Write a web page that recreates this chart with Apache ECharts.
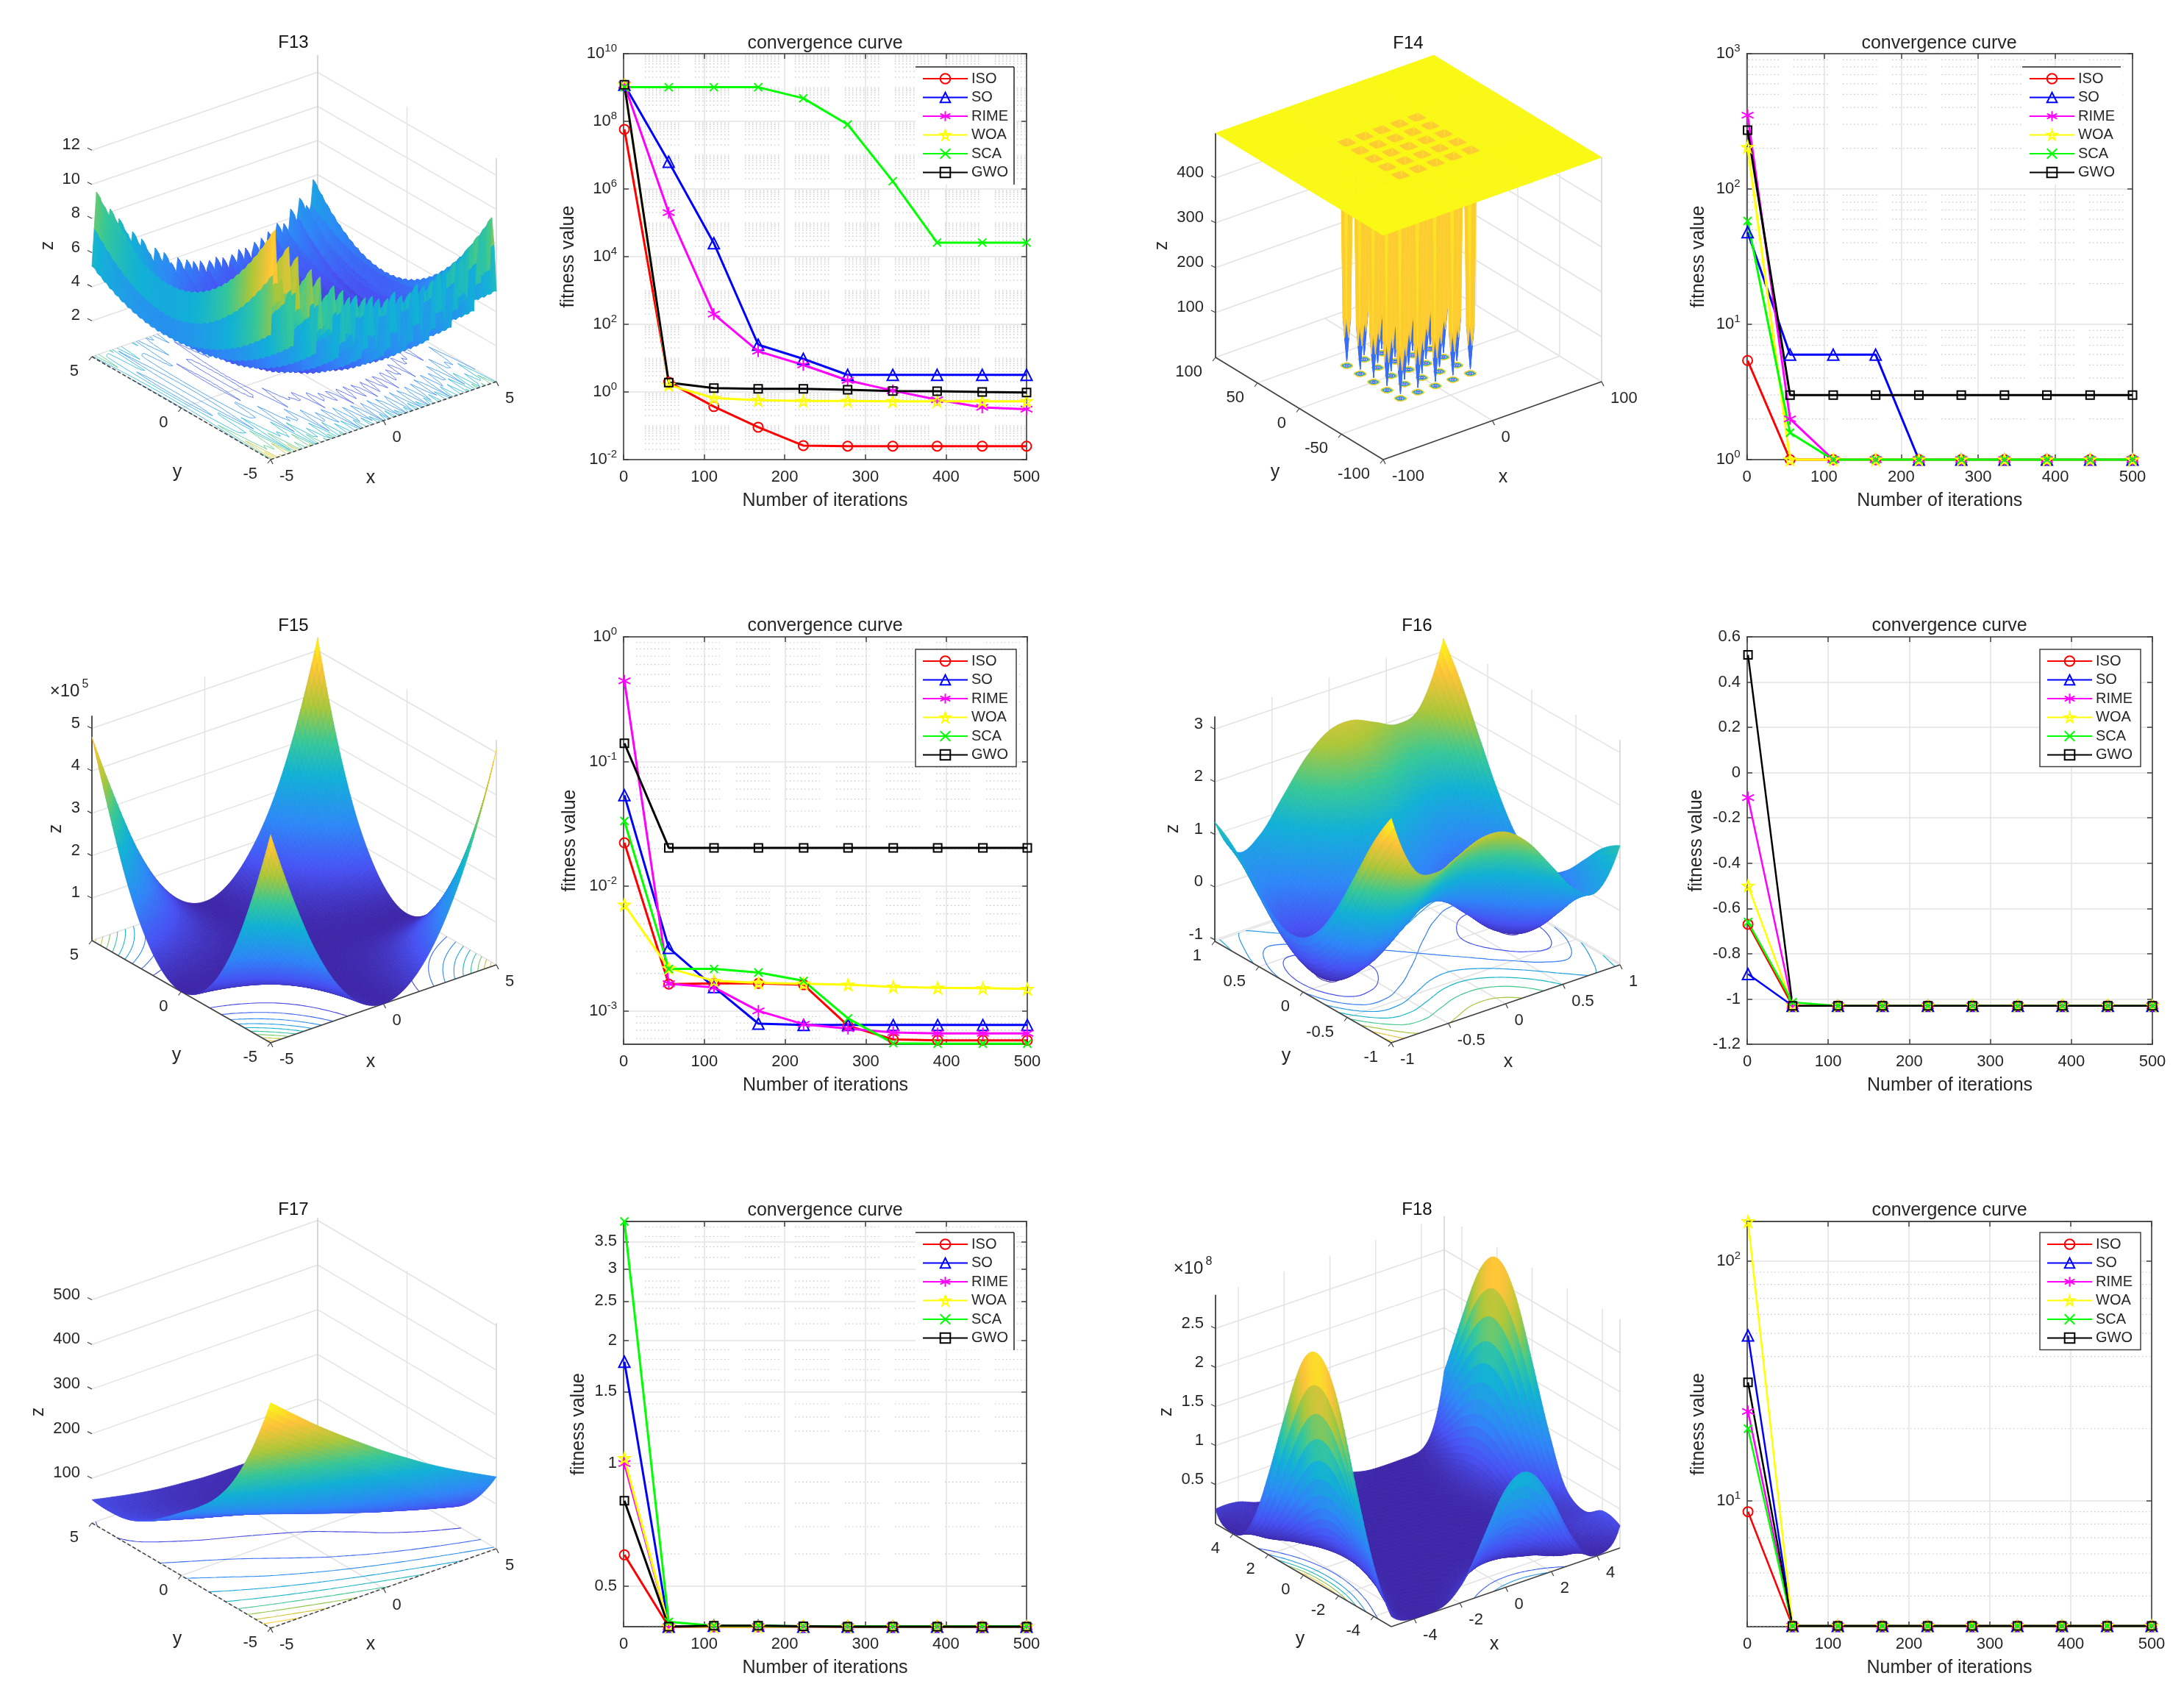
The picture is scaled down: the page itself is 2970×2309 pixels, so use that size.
<!DOCTYPE html>
<html><head><meta charset="utf-8">
<style>html,body{margin:0;padding:0;background:#fff}#c{width:2970px;height:2309px}</style>
<script src="https://cdn.jsdelivr.net/npm/echarts@6/dist/echarts.min.js"></script>
</head><body><div id="c"></div>
<script>
// ---------- DATA: convergence curves ----------
const iterations = [1,56,112,167,223,278,334,389,445,500];
const algorithms = ['ISO','SO','RIME','WOA','SCA','GWO'];

const c13_ISO  = [5.8e7,1.95,0.37,0.091,0.026,0.025,0.025,0.025,0.025,0.025];
const c13_SO   = [1.2e9,6.4e6,2.5e4,25,9.5,3.2,3.2,3.2,3.2,3.2];
const c13_RIME = [1.2e9,2e5,200,16,6.3,2.2,1.1,0.59,0.35,0.31];
const c13_WOA  = [1.2e9,1.6,0.66,0.57,0.54,0.54,0.53,0.53,0.53,0.53];
const c13_SCA  = [1.02e9,1.02e9,1.02e9,1.02e9,4.8e8,8.1e7,1.7e6,2.6e4,2.6e4,2.6e4];
const c13_GWO  = [1.2e9,1.9,1.3,1.24,1.24,1.16,1.07,1.05,1.0,0.96];

const c14_ISO  = [5.4,1,1,1,1,1,1,1,1,1];
const c14_SO   = [48,5.96,5.96,5.96,1,1,1,1,1,1];
const c14_RIME = [351,2.0,1,1,1,1,1,1,1,1];
const c14_WOA  = [204,1,1,1,1,1,1,1,1,1];
const c14_SCA  = [58,1.58,1,1,1,1,1,1,1,1];
const c14_GWO  = [272,3,3,3,3,3,3,3,3,3];

const c15_ISO  = [0.0223,1.64e-3,1.66e-3,1.66e-3,1.62e-3,7.6e-4,5.9e-4,5.8e-4,5.8e-4,5.8e-4];
const c15_SO   = [0.0537,3.2e-3,1.55e-3,7.9e-4,7.7e-4,7.7e-4,7.7e-4,7.7e-4,7.7e-4,7.7e-4];
const c15_RIME = [0.444,1.65e-3,1.54e-3,1.0e-3,7.8e-4,7.2e-4,6.7e-4,6.6e-4,6.6e-4,6.6e-4];
const c15_WOA  = [7.1e-3,2.2e-3,1.74e-3,1.68e-3,1.65e-3,1.62e-3,1.56e-3,1.53e-3,1.52e-3,1.5e-3];
const c15_SCA  = [0.0333,2.17e-3,2.17e-3,2.03e-3,1.74e-3,8.7e-4,5.5e-4,5.45e-4,5.45e-4,5.45e-4];
const c15_GWO  = [0.14,0.0203,0.0203,0.0203,0.0203,0.0203,0.0203,0.0203,0.0203,0.0203];

const c16_ISO  = [-0.67,-1.03,-1.03,-1.03,-1.03,-1.03,-1.03,-1.03,-1.03,-1.03];
const c16_SO   = [-0.89,-1.03,-1.03,-1.03,-1.03,-1.03,-1.03,-1.03,-1.03,-1.03];
const c16_RIME = [-0.11,-1.03,-1.03,-1.03,-1.03,-1.03,-1.03,-1.03,-1.03,-1.03];
const c16_WOA  = [-0.5,-1.03,-1.03,-1.03,-1.03,-1.03,-1.03,-1.03,-1.03,-1.03];
const c16_SCA  = [-0.66,-1.015,-1.03,-1.03,-1.03,-1.03,-1.03,-1.03,-1.03,-1.03];
const c16_GWO  = [0.52,-1.03,-1.03,-1.03,-1.03,-1.03,-1.03,-1.03,-1.03,-1.03];

const c17_ISO  = [0.597,0.398,0.398,0.398,0.398,0.398,0.398,0.398,0.398,0.398];
const c17_SO   = [1.776,0.398,0.4,0.4,0.398,0.398,0.398,0.398,0.398,0.398];
const c17_RIME = [1.0,0.398,0.398,0.398,0.398,0.398,0.398,0.398,0.398,0.398];
const c17_WOA  = [1.03,0.398,0.398,0.398,0.398,0.398,0.398,0.398,0.398,0.398];
const c17_SCA  = [3.92,0.409,0.4,0.4,0.399,0.399,0.399,0.399,0.399,0.399];
const c17_GWO  = [0.81,0.398,0.4,0.4,0.399,0.398,0.398,0.398,0.398,0.398];

const c18_ISO  = [9.0,3,3,3,3,3,3,3,3,3];
const c18_SO   = [49,3,3,3,3,3,3,3,3,3];
const c18_RIME = [23.6,3,3,3,3,3,3,3,3,3];
const c18_WOA  = [146.6,3,3,3,3,3,3,3,3,3];
const c18_SCA  = [20,3,3,3,3,3,3,3,3,3];
const c18_GWO  = [31.2,3,3,3,3,3,3,3,3,3];

const ticks13 = [1e-2,1,1e2,1e4,1e6,1e8,1e10];
const ticks14 = [1,10,100,1000];
const ticks15 = [1e-3,1e-2,1e-1,1];
const ticks16 = [-1.2,-1,-0.8,-0.6,-0.4,-0.2,0,0.2,0.4,0.6];
const ticks17 = [0.5,1,1.5,2,2.5,3,3.5];
const ticks18 = [10,100];
const minor17 = [0.4,0.6,0.7,0.8,0.9,1.2,1.3,1.4,1.6,1.7,1.8,1.9,2.2,2.4,2.6,2.7,2.8,3.2,3.4,3.6,3.8];

// ---------- DATA: surface heights (rows: x, columns: y) ----------
const f13Step = [36,25,16,9,4,1,0,1,4,9,16];
const f13RippleA = [0,.654,.905,.095,.345,1,.345,.095,.905,.654,0,.654,.905,.095,.345,1,.345,.095,.905,.654,0,.654,.905,.095,.345,1,.345,.095,.905,.654,0,.654,.905,.095,.345,1,.345,.095,.905,.654,0,.654,.905,.095,.345,1,.345,.095,.905,.654,0,.654,.905,.095,.345,1,.345,.095,.905,.654,0,.654,.905,.095,.345,1,.345,.095,.905,.654,0,.654,.905,.095,.345,1,.345,.095,.905,.654,0,.654,.905,.095,.345,1,.345,.095,.905,.654,0,.654,.905,.095,.345,1,.345,.095,.905,.654,0];
const f13RippleB = [0,.345,.905,.905,.345,0,.345,.905,.905,.345,0,.345,.905,.905,.345,0,.345,.905,.905,.345,0,.345,.905,.905,.345,0,.345,.905,.905,.345,0,.345,.905,.905,.345,0,.345,.905,.905,.345,0,.345,.905,.905,.345,0,.345,.905,.905,.345,0,.345,.905,.905,.345,0,.345,.905,.905,.345,0,.345,.905,.905,.345,0,.345,.905,.905,.345,0,.345,.905,.905,.345,0,.345,.905,.905,.345,0,.345,.905,.905,.345,0,.345,.905,.905,.345,0,.345,.905,.905,.345,0,.345,.905,.905,.345,0];

const f14Centres = [-32,-16,0,16,32];
const f14Offsets = [-5.2,-4,-2,0,2,4,5.2];
const f14Well = [
 [498,497,497,497,497,497,498],
 [497,471,447,446,447,471,497],
 [497,447,108,64,108,447,497],
 [497,446,64,10,64,446,497],
 [497,447,108,64,108,447,497],
 [497,471,447,446,447,471,497],
 [498,497,497,497,497,497,498]];

const f15Table = [
 [4.9,3.2,1.8,.8,.2,0,.2,.8,1.8,3.2,4.8],
 [3.2,2.05,1.15,.51,.13,0,.13,.51,1.15,2.05,3.2],
 [1.8,1.15,.65,.29,.07,0,.07,.29,.65,1.15,1.8],
 [.8,.51,.29,.13,.03,0,.03,.13,.29,.51,.8],
 [.2,.13,.07,.03,.01,0,.01,.03,.07,.13,.2],
 [0,0,0,0,0,0,0,0,0,0,0],
 [.2,.13,.07,.03,.01,0,.01,.03,.07,.13,.2],
 [.8,.51,.29,.13,.03,0,.03,.13,.29,.51,.8],
 [1.8,1.15,.65,.29,.07,0,.07,.29,.65,1.15,1.8],
 [3.2,2.05,1.15,.51,.13,0,.13,.51,1.15,2.05,3.3],
 [5.07,3.2,1.8,.8,.2,0,.2,.8,1.8,3.3,5.3]];

const f16Table = [
 [3.233,2.587,1.783,.988,.357,0,-.043,.188,.583,.987,1.233],
 [2.111,1.505,.741,-.014,-.605,-.922,-.925,-.654,-.219,.225,.511],
 [1.911,1.345,.621,-.094,-.645,-.922,-.885,-.574,-.099,.385,.711],
 [2.095,1.569,.885,.21,-.301,-.538,-.461,-.11,.405,.929,1.295],
 [2.279,1.793,1.149,.514,.043,-.154,-.037,.354,.909,1.473,1.879],
 [2.233,1.787,1.183,.588,.157,0,.157,.588,1.183,1.787,2.233],
 [1.879,1.473,.909,.354,-.037,-.154,.043,.514,1.149,1.793,2.279],
 [1.295,.929,.405,-.11,-.461,-.538,-.301,.21,.885,1.569,2.095],
 [.711,.385,-.099,-.574,-.885,-.922,-.645,-.094,.621,1.345,1.911],
 [.511,.225,-.219,-.654,-.925,-.922,-.605,-.014,.741,1.505,2.111],
 [1.233,.987,.583,.188,-.043,0,.357,.988,1.783,2.587,3.233]];

const f17Table = [
 [505,381,287,222,177,141,106,75,55,49,52],
 [462,343,255,194,153,120,88,60,41,36,41],
 [420,308,224,167,130,101,72,46,30,26,31],
 [381,274,195,143,110,84,58,34,20,17,23],
 [344,242,168,121,91,69,46,25,12,11,18],
 [308,212,143,100,75,56,36,17,6,7,14],
 [275,184,120,82,60,45,28,11,2.4,4,13],
 [243,158,99,65,48,36,22,8,.6,4,13],
 [214,134,80,51,37,29,18,6,.9,5.4,16],
 [187,112,64,38,29,24,16,6,3,9,20],
 [161,93,49,28,23,21,15,9,7,15,27]];

const f18Table = [
 [.132,.652,1.505,2.44,2.92,2.76,1.963,1.016,.266,.007,.187],
 [.005,.01,.106,.278,.416,.412,.264,.081,.002,.072,.179],
 [.011,.003,0,.009,.029,.034,.015,.001,.02,.058,.081],
 [.201,.015,.001,0,0,.001,0,.003,.012,.021,.088],
 [.718,.114,.01,0,0,0,0,.001,.003,.016,.148],
 [1.256,.24,.028,.001,0,0,0,0,.001,.015,.137],
 [1.373,.238,.02,0,.001,0,0,0,0,.003,.055],
 [.942,.098,.001,.01,.007,.002,.001,.001,0,0,.003],
 [.304,.003,.042,.041,.019,.021,.038,.038,.018,.003,.003],
 [.009,.123,.137,.075,.106,.255,.414,.457,.349,.169,.038],
 [.287,.344,.207,.33,.923,1.73,2.48,2.79,2.5,1.76,.943]];

const parulaStops = [[0,62,38,168],[.125,71,82,244],[.27,46,135,247],[.45,17,177,214],[.58,55,200,151],[.72,171,199,57],[.87,254,195,56],[1,249,251,20]];

// ---------- LAYOUT / STYLE ----------
const FONT = '"Liberation Sans", Arial, sans-serif';
const INK = '#262626', AXIS = '#404040', GRIDC = '#e3e3e3', MINOR = '#c6c6c6';
const COLORS = ['#ff0000','#0000ff','#ff00ff','#ffff00','#00ff00','#000000'];
const SYMBOLS = ['circle','triangle',
 'path://M12 0V24M1.6 6L22.4 18M1.6 18L22.4 6',
 'path://M12 0L14.9 8.6H24L16.6 14L19.4 23L12 17.4L4.6 23L7.4 14L0 8.6H9.1Z',
 'path://M0 0L24 24M0 24L24 0','rect'];
const SIZES = [13,15,16,15,11,11];

const linePanels = [
 {vals:[c13_ISO,c13_SO,c13_RIME,c13_WOA,c13_SCA,c13_GWO],lw:3,l:848,r:1396,t:73,b:625,log:true,min:1e-2,max:1e10,ticks:ticks13,minorDec:[-2,10],all:true,tx:1122,ty:59,nameGap:75,
  leg:{x:1245,y:91,box:'tr',w:134},dots:{start:877,period:68,len:47},sup:true},
 {vals:[c14_ISO,c14_SO,c14_RIME,c14_WOA,c14_SCA,c14_GWO],lw:3,l:2375.5,r:2900,t:73,b:625,log:true,min:1,max:1000,ticks:ticks14,minorDec:[0,3],tx:2637,ty:59,nameGap:65,
  leg:{x:2750,y:91,box:'t',w:134},dots:{start:2372,period:67,len:47},sup:true},
 {vals:[c15_ISO,c15_SO,c15_RIME,c15_WOA,c15_SCA,c15_GWO],lw:3,l:848,r:1397,t:866,b:1420,log:true,min:5.4e-4,max:1,ticks:ticks15,minorDec:[-4,0],tx:1122,ty:851,nameGap:73,
  leg:{x:1245,y:883,box:'full',w:135},dots:{start:865,period:68,len:46},sup:true},
 {vals:[c16_ISO,c16_SO,c16_RIME,c16_WOA,c16_SCA,c16_GWO],lw:2.5,l:2376,r:2927,t:866,b:1420,log:false,min:-1.2,max:0.6,ticks:ticks16,tx:2651,ty:851,nameGap:69,
  leg:{x:2774,y:883,box:'full',w:136}},
 {vals:[c17_ISO,c17_SO,c17_RIME,c17_WOA,c17_SCA,c17_GWO],lw:3,l:848,r:1396,t:1661,b:2212,log:true,min:0.398,max:3.92,ticks:ticks17,minorList:minor17,tx:1122,ty:1646,nameGap:61,
  leg:{x:1245,y:1676,box:'tr',w:134},dots:{start:877,period:68,len:47}},
 {vals:[c18_ISO,c18_SO,c18_RIME,c18_WOA,c18_SCA,c18_GWO],lw:2.5,l:2376,r:2926,t:1661,b:2212,log:true,min:2.98,max:146.6,ticks:ticks18,minorDec:[0,3],tx:2651,ty:1646,nameGap:66,
  leg:{x:2774,y:1676,box:'full',w:134},dots:{start:2376,period:550,len:550},sup:true}
];

function parula(t){
  t = Math.max(0,Math.min(1,t));
  for(let i=1;i<parulaStops.length;i++){
    const a=parulaStops[i-1], b=parulaStops[i];
    if(t<=b[0]){
      const k=(t-a[0])/(b[0]-a[0]);
      return 'rgb('+Math.round(a[1]+k*(b[1]-a[1]))+','+Math.round(a[2]+k*(b[2]-a[2]))+','+Math.round(a[3]+k*(b[3]-a[3]))+')';
    }
  }
  return 'rgb(249,251,20)';
}

// display smoothing of a coarse height table (the mesh between read values)
function smooth1D(p,n){
  const out=[], m=p.length;
  const at=i=> i<0 ? 3*p[0]-3*p[1]+p[2] : i>=m ? 3*p[m-1]-3*p[m-2]+p[m-3] : p[i];
  for(let i=0;i<m-1;i++){
    for(let k=0;k<n;k++){
      const t=k/n,a=at(i-1),b=at(i),c=at(i+1),d=at(i+2);
      out.push(0.5*((2*b)+(-a+c)*t+(2*a-5*b+4*c-d)*t*t+(-a+3*b-3*c+d)*t*t*t));
    }
  }
  out.push(p[m-1]);
  return out;
}
function smoothTable(T,n,root){
  const src = root ? T.map(r=>r.map(v=>Math.sqrt(Math.max(v,0)))) : T;
  const rows = src.map(r=>smooth1D(r,n));
  const w = rows[0].length, cols=[];
  for(let j=0;j<w;j++) cols.push(smooth1D(rows.map(r=>r[j]),n));
  const out=[];
  for(let i=0;i<cols[0].length;i++){
    out.push(cols.map(c=>{const v=c[i];return root? v*v : v;}));
  }
  return out;
}
function lin(a,b,n){const o=[];for(let i=0;i<n;i++)o.push(a+(b-a)*i/(n-1));return o;}

// surface builders
function buildF13(){
  const p = smooth1D(f13Step,10), z=[];
  for(let ix=0;ix<101;ix++){
    const row=[];
    for(let iy=0;iy<101;iy++){
      row.push(0.1*(f13RippleA[iy]+p[iy]*(1+f13RippleA[ix])+p[ix]*(1+f13RippleB[ix])));
    }
    z.push(row);
  }
  return {xs:lin(-5,5,101),ys:lin(-5,5,101),z};
}
function buildF14(){
  const lines=[-100]; f14Centres.forEach(c=>f14Offsets.forEach(o=>lines.push(c+o))); lines.push(100);
  const n=lines.length, z=[];
  for(let i=0;i<n;i++){
    const row=[];
    for(let j=0;j<n;j++){
      if(i===0||j===0||i===n-1||j===n-1) row.push(500);
      else row.push(f14Well[(i-1)%7][(j-1)%7]);
    }
    z.push(row);
  }
  return {xs:lines,ys:lines,z};
}
function buildTable(T,r0,r1,n,root){
  const z=smoothTable(T,n,root);
  return {xs:lin(r0,r1,z.length),ys:lin(r0,r1,z[0].length),z};
}

const surfacePanels = [
 {title:'F13',tx:399,ty:58,L:[125,485],F:[368,625],R:[675,519],zs:23.2,zf:-0.1,zt:13,
  xt:[-5,0,5],yt:[-5,0,5],zt_:[2,4,6,8,10,12],levels:[2,4,6,8,10,12],cw:0.8,
  xTitle:[504,650],yTitle:[241,642],zTitle:[65,334],zLine:false,xWall:false,surf:buildF13(),dash:[5,3]},
 {title:'F14',tx:1915,ty:59,L:[1653,486],F:[1881,625],R:[2178,519],zs:0.61,zf:0,zt:500,
  xt:[-100,0,100],yt:[-100,-50,0,50,100],zt_:[100,200,300,400],levels:[50,100,150,200,250,300,350,400,450],cw:1,
  xTitle:[2044,649],yTitle:[1734,642],zTitle:[1580,334],zLine:true,xWall:false,surf:buildF14(),colorWell:true},
 {title:'F15',tx:399,ty:851,L:[125,1279],F:[368,1418],R:[675,1312],zs:57.7,zf:0,zt:5.3,
  xt:[-5,0,5],yt:[-5,0,5],zt_:[1,2,3,4,5],levels:[.5,1,1.5,2,2.5,3,3.5,4,4.5,5],cw:1.1,
  xTitle:[504,1444],yTitle:[240,1435],zTitle:[76,1127],zLine:true,xWall:true,surf:buildTable(f15Table,-5,5,8),exp:['5',[92,940]]},
 {title:'F16',tx:1927,ty:851,L:[1652,1280],F:[1892,1418],R:[2203,1312],zs:71.6,zf:-1.03,zt:3.24,
  xt:[-1,-.5,0,.5,1],yt:[-1,-.5,0,.5,1],zt_:[-1,0,1,2,3],levels:[-1,-.5,0,.5,1,1.5,2,2.5,3],cw:1.2,
  xTitle:[2051,1444],yTitle:[1749,1436],zTitle:[1595,1127],zLine:true,xWall:true,surf:buildTable(f16Table,-1,1,8)},
 {title:'F17',tx:399,ty:1645,L:[125,2071],F:[368,2214],R:[675,2106],zs:0.607,zf:0,zt:505,
  xt:[-5,0,5],yt:[-5,0,5],zt_:[100,200,300,400,500],levels:[50,100,150,200,250,300,350,400,450,500],cw:1.1,
  xTitle:[504,2236],yTitle:[241,2229],zTitle:[52,1920],zLine:false,xWall:false,surf:buildTable(f17Table,-5,5,8),dash:[5,3]},
 {title:'F18',tx:1927,ty:1645,L:[1653,2072],F:[1892,2212],R:[2203,2105],zs:106.2,zf:0,zt:2.93,
  xt:[-4,-2,0,2,4],yt:[-4,-2,0,2,4],zt_:[.5,1,1.5,2,2.5],levels:[.5,1,1.5,2,2.5],cw:1.1,
  xTitle:[2032,2236],yTitle:[1768,2229],zTitle:[1586,1920],zLine:true,xWall:true,surf:buildTable(f18Table,-5,5,10,true),exp:['8',[1620,1725]]}
];

// ---------- OPTION ----------
const option = {backgroundColor:'#fff',animation:false,title:[],grid:[],xAxis:[],yAxis:[],series:[],legend:[],graphic:{elements:[]},progressive:0};

function axisCommon(){return {
  axisLine:{show:true,onZero:false,lineStyle:{color:AXIS,width:1.5}},
  axisTick:{show:true,inside:true,length:7,lineStyle:{color:AXIS,width:1.5}}
};}

linePanels.forEach((P,idx)=>{
  const g=idx, xA=idx*2, yA=idx*2;
  option.grid.push({left:P.l,top:P.t,width:P.r-P.l,height:P.b-P.t,show:true,borderColor:AXIS,borderWidth:1.5,backgroundColor:'transparent'});
  option.title.push({text:'convergence curve',left:P.tx,top:P.ty,textAlign:'center',textVerticalAlign:'middle',padding:0,
    textStyle:{fontSize:25,fontWeight:'normal',color:INK,fontFamily:FONT}});
  // x axes
  option.xAxis.push(Object.assign(axisCommon(),{type:'value',gridIndex:g,min:0,max:500,interval:100,position:'bottom',
    name:'Number of iterations',nameLocation:'middle',nameGap:44,nameTextStyle:{fontSize:25,color:INK,fontFamily:FONT},
    axisLabel:{fontSize:22,color:INK,fontFamily:FONT,margin:13},
    splitLine:{show:true,lineStyle:{color:GRIDC,width:1.5}}}));
  option.xAxis.push(Object.assign(axisCommon(),{type:'value',gridIndex:g,min:0,max:500,interval:100,position:'top',
    axisLabel:{show:false},splitLine:{show:false}}));
  // y axes
  const fmt = P.sup ? (v=>'{a|10}{b|'+Math.round(Math.log10(v))+'}') : (v=>String(v));
  const rich = {a:{fontSize:22,color:INK,fontFamily:FONT},b:{fontSize:15,color:INK,fontFamily:FONT,padding:[0,0,14,0]}};
  const yBase = P.log ? {type:'log',logBase:10} : {type:'value',interval:0.2};
  const yTick = P.log ? {customValues:P.ticks} : {};
  option.yAxis.push(Object.assign(axisCommon(),yBase,{gridIndex:g,min:P.min,max:P.max,position:'left',
    name:'fitness value',nameLocation:'middle',nameGap:P.nameGap,nameRotate:90,nameTextStyle:{fontSize:25,color:INK,fontFamily:FONT,verticalAlign:'middle'},
    axisTick:{show:true,inside:true,length:7,lineStyle:{color:AXIS,width:1.5},...yTick},
    axisLabel:{fontSize:22,color:INK,fontFamily:FONT,margin:9,formatter:fmt,rich,...yTick},
    splitLine:{show:true,lineStyle:{color:GRIDC,width:1.5}}}));
  option.yAxis.push(Object.assign(axisCommon(),yBase,{gridIndex:g,min:P.min,max:P.max,position:'right',
    axisTick:{show:true,inside:true,length:7,lineStyle:{color:AXIS,width:1.5},...yTick},
    axisLabel:{show:false},splitLine:{show:false}}));
  // minor log grid
  if(P.log){
    let minors = P.minorList ? P.minorList.slice() : [];
    if(P.minorDec){
      for(let e=P.minorDec[0];e<P.minorDec[1];e++){
        for(let m=2;m<=9;m++) minors.push(m*Math.pow(10,e));
        if(P.all && (e%2!==0)) minors.push(Math.pow(10,e));
      }
    }
    minors = minors.filter(v=>v>P.min && v<P.max);
    option.series.push({type:'custom',coordinateSystem:'cartesian2d',xAxisIndex:xA,yAxisIndex:yA,silent:true,clip:true,
      data:[[1,P.log?P.max:0]],progressive:0,
      renderItem:(params,api)=>{
        const children=[];
        minors.forEach(v=>{
          const yy=api.coord([0,v])[1];
          for(let x=P.dots?P.dots.start:P.l;x<P.r;x+=(P.dots?P.dots.period:1e5)){
            const x2=Math.min(P.r-2,x+(P.dots?P.dots.len:1e5)), x1=Math.max(P.l+2,x);
            if(x2<=x1) continue;
            children.push({type:'line',silent:true,shape:{x1,y1:yy,x2,y2:yy},style:{stroke:MINOR,lineWidth:1.2,lineDash:[1.5,3.5]}});
          }
        });
        return {type:'group',children};
      }});
  }
  // curves
  algorithms.forEach((name,k)=>{
    option.series.push({type:'line',name,xAxisIndex:xA,yAxisIndex:yA,clip:false,smooth:false,animation:false,
      data:iterations.map((x,i)=>[x,P.vals[k][i]]),
      symbol:SYMBOLS[k],symbolSize:SIZES[k],showAllSymbol:true,
      lineStyle:{color:COLORS[k],width:P.lw},
      itemStyle:{color:'transparent',borderColor:COLORS[k],borderWidth:2},
      emphasis:{disabled:true},z:3});
  });
  // legend
  const box=P.leg.box;
  option.legend.push({orient:'vertical',left:P.leg.x,top:P.leg.y,data:algorithms,itemWidth:61,itemHeight:17,itemGap:5.5,padding:[6,11,6,9],
    selectedMode:false,backgroundColor:'#fff',borderColor:box==='full'?'#404040':'transparent',borderWidth:box==='full'?1.5:0,
    textStyle:{fontSize:20,color:INK,fontFamily:FONT},z:6});
  if(box!=='full'){
    const x0=P.leg.x,y0=P.leg.y,x1=x0+P.leg.w,y1=y0+160;
    option.graphic.elements.push({type:'line',z:8,silent:true,shape:{x1:x0,y1:y0,x2:x1,y2:y0},style:{stroke:'#222',lineWidth:1.5}});
    if(box==='tr') option.graphic.elements.push({type:'line',z:8,silent:true,shape:{x1:x1,y1:y0,x2:x1,y2:y1},style:{stroke:'#222',lineWidth:1.5}});
  }
});

// 3-D panels: custom series on a small orthographic projection
surfacePanels.forEach(S=>{
  const xs=S.surf.xs, ys=S.surf.ys, Z=S.surf.z;
  const x0=xs[0],x1=xs[xs.length-1],y0=ys[0],y1=ys[ys.length-1];
  const ln=echarts.number.linearMap;
  function proj(x,y,z){
    const u=ln(x,[x0,x1],[0,1]), v=ln(y,[y0,y1],[0,1]);
    return [S.F[0]+u*(S.R[0]-S.F[0])+v*(S.L[0]-S.F[0]),
            S.F[1]+u*(S.R[1]-S.F[1])+v*(S.L[1]-S.F[1])-(z-S.zf)*S.zs];
  }
  let lo=Infinity,hi=-Infinity;
  Z.forEach(r=>r.forEach(v=>{if(v<lo)lo=v;if(v>hi)hi=v;}));
  const col=v=>parula((v-lo)/(hi-lo));

  // contour paths on the floor
  const paths=S.levels.map(level=>{
    let d='';
    for(let i=0;i<xs.length-1;i++)for(let j=0;j<ys.length-1;j++){
      const a=Z[i][j],b=Z[i+1][j],c=Z[i+1][j+1],e=Z[i][j+1];
      const pts=[];
      const edge=(p,q,px,py,qx,qy)=>{
        if((p<level)!==(q<level)){const t=(level-p)/(q-p);pts.push(proj(px+(qx-px)*t,py+(qy-py)*t,S.zf));}
      };
      edge(a,b,xs[i],ys[j],xs[i+1],ys[j]);
      edge(b,c,xs[i+1],ys[j],xs[i+1],ys[j+1]);
      edge(c,e,xs[i+1],ys[j+1],xs[i],ys[j+1]);
      edge(e,a,xs[i],ys[j+1],xs[i],ys[j]);
      for(let k=0;k+1<pts.length;k+=2){
        d+='M'+pts[k][0].toFixed(1)+' '+pts[k][1].toFixed(1)+'L'+pts[k+1][0].toFixed(1)+' '+pts[k+1][1].toFixed(1);
      }
    }
    return {level,d};
  });

  // back: walls, floor grid, contours, axis lines
  option.series.push({type:'custom',coordinateSystem:'none',silent:true,data:[[0]],progressive:0,z:1,
    renderItem:()=>{
      const ch=[];
      const seg=(a,b,stroke,w,dash)=>ch.push({type:'line',silent:true,shape:{x1:a[0],y1:a[1],x2:b[0],y2:b[1]},style:{stroke,lineWidth:w,lineDash:dash||null}});
      S.zt_.forEach(z=>{
        seg(proj(x0,y1,z),proj(x1,y1,z),GRIDC,1.5);
        seg(proj(x1,y1,z),proj(x1,y0,z),GRIDC,1.5);
      });
      S.xt.forEach(x=>{
        if(S.xWall || x===x1) seg(proj(x,y1,S.zf),proj(x,y1,S.zt),GRIDC,1.5);
        seg(proj(x,y0,S.zf),proj(x,y1,S.zf),GRIDC,1.5);
      });
      S.yt.forEach(y=>{
        seg(proj(x1,y,S.zf),proj(x1,y,S.zt),GRIDC,1.5);
        seg(proj(x0,y,S.zf),proj(x1,y,S.zf),GRIDC,1.5);
      });
      seg(proj(x1,y1,S.zf),proj(x1,y1,S.zt),'#d0d0d0',1.5);
      seg(proj(x1,y0,S.zf),proj(x1,y0,S.zt),'#d8d8d8',1.5);
      paths.forEach(p=>{ if(p.d) ch.push({type:'path',silent:true,shape:{pathData:p.d},style:{fill:null,stroke:col(p.level),lineWidth:S.cw}}); });
      // axis lines and ticks
      seg(proj(x0,y1,S.zf),proj(x0,y0,S.zf),AXIS,1.5,S.dash);
      seg(proj(x0,y0,S.zf),proj(x1,y0,S.zf),AXIS,1.5,S.dash);
      if(S.zLine) seg(proj(x0,y1,S.zf),proj(x0,y1,S.zt),AXIS,1.8);
      return {type:'group',children:ch};
    }});

  // surface cells, far to near
  const cells=[];
  for(let i=xs.length-2;i>=0;i--)for(let j=ys.length-2;j>=0;j--)cells.push([i,j]);
  option.series.push({type:'custom',coordinateSystem:'none',silent:true,data:cells,progressive:0,progressiveThreshold:1e9,z:2,
    renderItem:(params,api)=>{
      const i=api.value(0),j=api.value(1);
      const a=Z[i][j],b=Z[i+1][j],c=Z[i+1][j+1],e=Z[i][j+1];
      let v=(a+b+c+e)/4;
      if(S.colorWell){
        const mn=Math.min(a,b,c,e), mx=Math.max(a,b,c,e);
        v = (mn>400) ? mn : mx;
      }
      const f=col(v);
      return {type:'polygon',silent:true,shape:{points:[proj(xs[i],ys[j],a),proj(xs[i+1],ys[j],b),proj(xs[i+1],ys[j+1],c),proj(xs[i],ys[j+1],e)]},
        style:{fill:f,stroke:f,lineWidth:0.8}};
    }});

  // labels
  option.title.push({text:S.title,left:S.tx,top:S.ty,textAlign:'center',textVerticalAlign:'middle',padding:0,
    textStyle:{fontSize:24,fontWeight:'normal',color:'#111',fontFamily:FONT}});
  option.series.push({type:'custom',coordinateSystem:'none',silent:true,data:[[0]],progressive:0,z:4,
    renderItem:()=>{
      const ch=[];
      const txt=(s,x,y,align,size,rot)=>ch.push({type:'text',silent:true,x,y,rotation:rot||0,
        style:{text:s,x:0,y:0,textAlign:align,textVerticalAlign:'middle',fill:INK,font:(size||22)+'px '+FONT}});
      const tick=(a,dx,dy)=>ch.push({type:'line',silent:true,shape:{x1:a[0],y1:a[1],x2:a[0]+dx,y2:a[1]+dy},style:{stroke:AXIS,lineWidth:1.2}});
      S.xt.forEach(x=>{const p=proj(x,y0,S.zf);tick(p,3,6);txt(String(x),p[0]+12,p[1]+23,'left');});
      S.yt.forEach(y=>{const p=proj(x0,y,S.zf);tick(p,-4,5);txt(String(y),p[0]-18,p[1]+20,'right');});
      S.zt_.forEach(z=>{const p=proj(x0,y1,z);tick(p,-6,-3);txt(String(z),p[0]-16,p[1]-7,'right');});
      txt('x',S.xTitle[0],S.xTitle[1],'center',25);
      txt('y',S.yTitle[0],S.yTitle[1],'center',25);
      txt('z',S.zTitle[0],S.zTitle[1],'center',25,Math.PI/2);
      if(S.exp){
        txt('\u00d710',S.exp[1][0]-4,S.exp[1][1],'center',24);
        txt(S.exp[0],S.exp[1][0]+24,S.exp[1][1]-9,'center',16);
      }
      return {type:'group',children:ch};
    }});
});

const chart = echarts.init(document.getElementById('c'),null,{renderer:'canvas',width:2970,height:2309});
chart.setOption(option);
</script></body></html>
